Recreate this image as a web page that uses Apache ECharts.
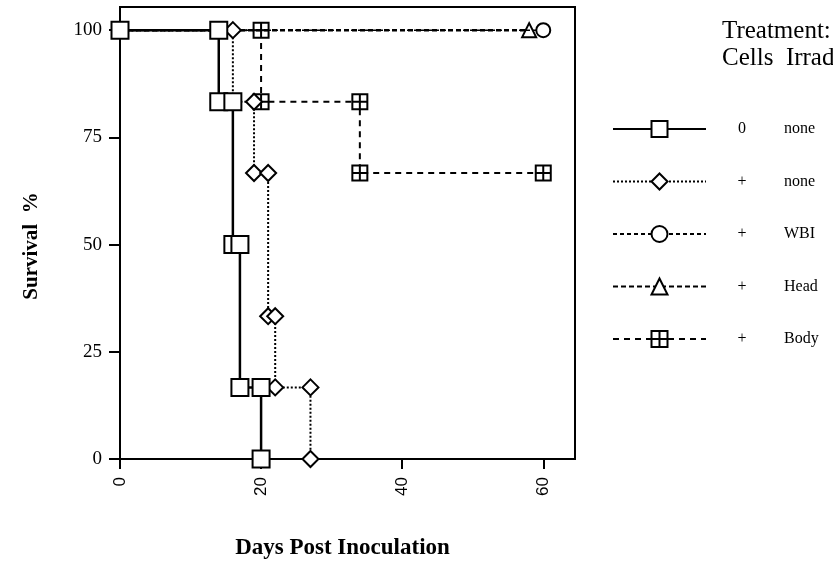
<!DOCTYPE html>
<html>
<head>
<meta charset="utf-8">
<script src="https://cdn.jsdelivr.net/npm/echarts@6/dist/echarts.min.js"></script>
<style>
  html, body { margin: 0; padding: 0; background: #fff; }
  #chart { width: 833px; height: 571px; }
</style>
</head>
<body>
<div id="chart"></div>
<script>
// Survival (%) against days post inoculation, one step curve per treatment group.
const ctrlDays = [0, 14, 14, 16, 16, 17, 17, 20, 20];
const ctrlSurv = [100, 100, 83.3, 83.3, 50, 50, 16.7, 16.7, 0];

const cellsDays = [0, 16, 16, 19, 19, 21, 21, 22, 22, 27, 27];
const cellsSurv = [100, 100, 83.3, 83.3, 66.7, 66.7, 33.3, 33.3, 16.7, 16.7, 0];

const wbiDays = [0, 60];
const wbiSurv = [100, 100];

const headDays = [0, 58];
const headSurv = [100, 100];

const bodyDays = [0, 20, 20, 34, 34, 60];
const bodySurv = [100, 100, 83.3, 83.3, 66.7, 66.7];

const groupNames = ['ctrl', 'cells', 'wbi', 'head', 'body'];
const cellsCol = ['0', '+', '+', '+', '+'];
const irradCol = ['none', 'none', 'WBI', 'Head', 'Body'];

const xTicks = [0, 20, 40, 60];
const yTicks = [0, 25, 50, 75, 100];

const SERIF = '"Liberation Serif", "Times New Roman", Times, serif';
const SANS = '"Liberation Sans", Arial, Helvetica, sans-serif';

function pairs(xs, ys) { return xs.map((x, i) => [x, ys[i]]); }

// open square split into four cells
const bodySymbol = 'path://M0,0H14V14H0Z M7,0V14 M0,7H14';

function mkSeries(name, xs, ys, symbol, size, line, z) {
  return {
    name: name,
    type: 'line',
    data: pairs(xs, ys),
    symbol: symbol,
    symbolSize: size,
    showAllSymbol: true,
    z: z,
    animation: false,
    itemStyle: { color: '#fff', borderColor: '#000', borderWidth: 2 },
    lineStyle: Object.assign({ color: '#000' }, line),
    emphasis: { disabled: true }
  };
}

const chart = echarts.init(document.getElementById('chart'), null, { renderer: 'canvas' });

const legendMap = {};
groupNames.forEach((g, i) => { legendMap[g] = i; });

chart.setOption({
  backgroundColor: '#fff',
  animation: false,
  title: {
    text: 'Treatment:\nCells  Irrad',
    left: 722,
    top: 18,
    padding: 0,
    textStyle: { fontFamily: SERIF, fontWeight: 'normal', fontSize: 25, lineHeight: 27, color: '#000' }
  },
  legend: {
    data: groupNames,
    orient: 'vertical',
    left: 612,
    top: 120,
    padding: 0,
    itemWidth: 93,
    itemHeight: 20,
    itemGap: 34.5,
    selectedMode: false,
    formatter: function (name) {
      const i = legendMap[name];
      return '{c|' + cellsCol[i] + '}{i|' + irradCol[i] + '}';
    },
    textStyle: {
      color: '#000',
      fontFamily: SERIF,
      fontSize: 16,
      rich: {
        c: { width: 62, align: 'center', fontFamily: SERIF, fontSize: 16, color: '#000' },
        i: { padding: [0, 0, 0, 11], fontFamily: SERIF, fontSize: 16, color: '#000' }
      }
    }
  },
  grid: {
    left: 120, right: 258, top: 7, bottom: 112,
    show: true, borderColor: '#000', borderWidth: 2, backgroundColor: 'transparent'
  },
  xAxis: {
    type: 'value',
    min: 0, max: 64.5,
    name: 'Days Post Inoculation',
    nameLocation: 'middle',
    nameGap: 78,
    nameTextStyle: { fontFamily: SERIF, fontWeight: 'bold', fontSize: 23, color: '#000', padding: [0, 10, 0, 0] },
    axisLine: { show: true, onZero: false, lineStyle: { color: '#000', width: 2 } },
    axisTick: { show: true, length: 10, lineStyle: { color: '#000', width: 2 }, customValues: xTicks },
    axisLabel: { rotate: 90, margin: 18, fontFamily: SANS, fontSize: 17, color: '#000', customValues: xTicks },
    splitLine: { show: false }
  },
  yAxis: {
    type: 'value',
    min: 0, max: 105.4,
    name: 'Survival  %',
    nameLocation: 'middle',
    nameGap: 78,
    nameRotate: 90,
    nameTextStyle: { fontFamily: SERIF, fontWeight: 'bold', fontSize: 21, color: '#000', padding: [0, 26, 0, 0] },
    axisLine: { show: true, onZero: false, lineStyle: { color: '#000', width: 2 } },
    axisTick: { show: true, length: 11, lineStyle: { color: '#000', width: 2 }, customValues: yTicks },
    axisLabel: { margin: 18, fontFamily: SERIF, fontSize: 19, color: '#000', customValues: yTicks },
    splitLine: { show: false }
  },
  series: [
    mkSeries('body', bodyDays, bodySurv, bodySymbol, 15, { width: 2, type: [6, 5] }, 2),
    mkSeries('head', headDays, headSurv, 'triangle', 14, { width: 2.5, type: [5, 3] }, 3),
    mkSeries('wbi', wbiDays, wbiSurv, 'circle', 14, { width: 1.5, type: [4, 3] }, 4),
    mkSeries('cells', cellsDays, cellsSurv, 'diamond', 16, { width: 2, type: [2, 2] }, 5),
    mkSeries('ctrl', ctrlDays, ctrlSurv, 'rect', 17, { width: 2.5, type: 'solid' }, 6)
  ]
});
</script>
</body>
</html>
